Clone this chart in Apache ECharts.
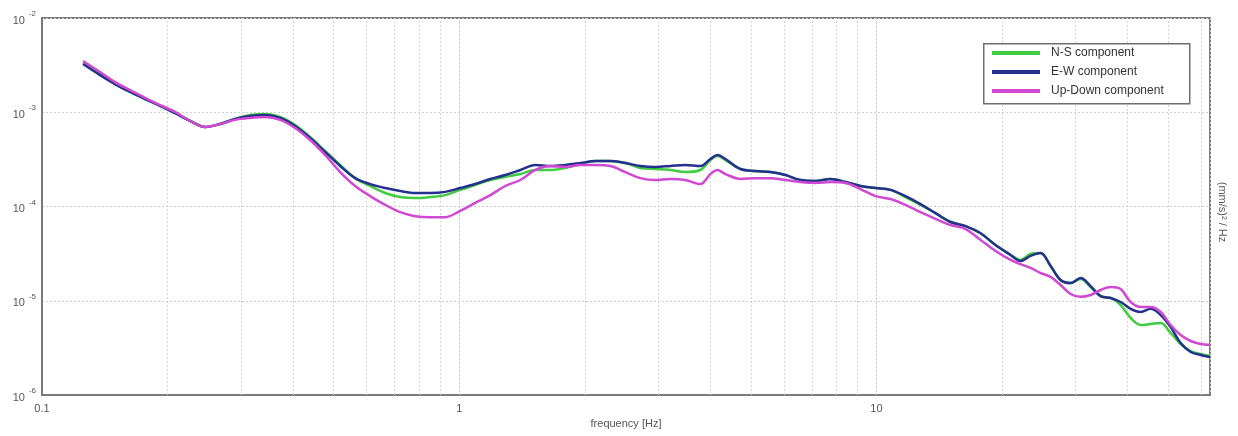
<!DOCTYPE html>
<html>
<head>
<meta charset="utf-8">
<script src="https://cdn.jsdelivr.net/npm/echarts@6/dist/echarts.min.js"></script>
<style>
html,body{margin:0;padding:0;background:#fff;}
#chart{width:1238px;height:436px;}
</style>
</head>
<body>
<div id="chart"></div>
<script>
// frequency [Hz]
const freq = [0.1254,0.1378,0.1497,0.1626,0.1766,0.1919,0.2084,0.2265,0.2460,0.2672,
0.2903,0.3154,0.3426,0.3722,0.4043,0.4392,0.4771,0.5183,0.5631,0.6117,
0.6645,0.7220,0.7843,0.8520,0.9256,1.0055,1.092,1.187,1.289,1.401,
1.522,1.653,1.796,1.951,2.119,2.302,2.501,2.717,2.951,3.206,
3.483,3.784,3.999,4.157,4.345,4.720,5.127,5.569,6.050,6.572,
7.140,7.756,8.426,9.154,9.945,10.80,11.73,12.75,13.85,15.05,
16.35,17.76,19.29,20.96,22.14,23.40,24.73,26.14,27.62,29.19,
30.85,32.60,34.45,36.41,38.47,40.66,42.97,45.41,47.99,50.70,
53.58,56.62,59.84,63.0];

const nsComponent = [3.33e-3,2.55e-3,1.99e-3,1.64e-3,1.38e-3,1.17e-3,9.8e-4,8.1e-4,6.98e-4,7.5e-4,
8.5e-4,9.35e-4,9.6e-4,8.9e-4,7.3e-4,5.46e-4,3.88e-4,2.76e-4,2.0e-4,1.65e-4,
1.39e-4,1.26e-4,1.23e-4,1.26e-4,1.32e-4,1.50e-4,1.69e-4,1.91e-4,2.06e-4,2.21e-4,
2.44e-4,2.44e-4,2.56e-4,2.82e-4,3.04e-4,3.04e-4,2.89e-4,2.56e-4,2.5e-4,2.44e-4,
2.32e-4,2.44e-4,3.11e-4,3.43e-4,3.11e-4,2.5e-4,2.38e-4,2.32e-4,2.16e-4,1.91e-4,
1.87e-4,1.96e-4,1.82e-4,1.65e-4,1.57e-4,1.50e-4,1.26e-4,1.04e-4,8.5e-5,6.85e-5,
6.2e-5,5.2e-5,3.9e-5,3.06e-5,2.71e-5,3.13e-5,3.21e-5,2.34e-5,1.66e-5,1.54e-5,
1.70e-5,1.40e-5,1.12e-5,1.07e-5,9.0e-6,6.56e-6,5.53e-6,5.67e-6,5.81e-6,4.55e-6,
3.48e-6,2.93e-6,2.72e-6,2.59e-6];

const ewComponent = [3.25e-3,2.48e-3,1.99e-3,1.64e-3,1.38e-3,1.17e-3,9.8e-4,8.1e-4,6.98e-4,7.5e-4,
8.5e-4,9.1e-4,9.35e-4,8.7e-4,7.15e-4,5.33e-4,3.79e-4,2.69e-4,2.0e-4,1.73e-4,
1.57e-4,1.46e-4,1.39e-4,1.39e-4,1.43e-4,1.57e-4,1.73e-4,1.96e-4,2.16e-4,2.44e-4,
2.76e-4,2.69e-4,2.76e-4,2.89e-4,3.04e-4,3.04e-4,2.89e-4,2.69e-4,2.63e-4,2.69e-4,
2.76e-4,2.69e-4,3.19e-4,3.52e-4,3.19e-4,2.5e-4,2.38e-4,2.32e-4,2.16e-4,1.91e-4,
1.87e-4,1.96e-4,1.82e-4,1.65e-4,1.57e-4,1.50e-4,1.29e-4,1.06e-4,8.5e-5,6.85e-5,
6.2e-5,5.2e-5,3.9e-5,3.06e-5,2.64e-5,2.99e-5,3.21e-5,2.34e-5,1.66e-5,1.54e-5,
1.74e-5,1.43e-5,1.12e-5,1.07e-5,9.7e-6,8.2e-6,7.6e-6,8.2e-6,7.06e-6,5.27e-6,
3.56e-6,2.86e-6,2.66e-6,2.53e-6];

const udComponent = [3.5e-3,2.67e-3,2.09e-3,1.72e-3,1.42e-3,1.19e-3,1.01e-3,8.1e-4,6.98e-4,7.5e-4,
8.3e-4,8.7e-4,8.9e-4,8.3e-4,6.8e-4,5.08e-4,3.52e-4,2.32e-4,1.65e-4,1.29e-4,
1.04e-4,8.7e-5,7.9e-5,7.7e-5,7.7e-5,9.0e-5,1.09e-4,1.32e-4,1.65e-4,1.91e-4,
2.44e-4,2.69e-4,2.63e-4,2.76e-4,2.76e-4,2.69e-4,2.32e-4,2.0e-4,1.91e-4,1.96e-4,
1.91e-4,1.73e-4,2.21e-4,2.44e-4,2.21e-4,1.96e-4,2.0e-4,2.0e-4,1.91e-4,1.82e-4,
1.78e-4,1.82e-4,1.78e-4,1.53e-4,1.29e-4,1.2e-4,1.04e-4,8.7e-5,7.4e-5,6.36e-5,
5.77e-5,4.41e-5,3.37e-5,2.71e-5,2.45e-5,2.23e-5,1.97e-5,1.79e-5,1.47e-5,1.18e-5,
1.10e-5,1.15e-5,1.30e-5,1.40e-5,1.33e-5,9.7e-6,8.6e-6,8.6e-6,7.6e-6,5.53e-6,
4.33e-6,3.74e-6,3.48e-6,3.39e-6];

const seriesNames = ['N-S component', 'E-W component', 'Up-Down component'];
const xGridValues = [0.2,0.3,0.4,0.5,0.6,0.7,0.8,0.9,1,2,3,4,5,6,7,8,9,10,20,30,40,50,60];
const xAxisName = 'frequency [Hz]';
const yAxisName = '(mm/s)\u00B2 / Hz';

const FONT = 'Liberation Sans, Arial, sans-serif';
const chart = echarts.init(document.getElementById('chart'), null, {renderer: 'canvas'});

function pairs(vals) { return freq.map((f, i) => [f, vals[i]]); }

const lineBase = {type: 'line', showSymbol: false, smooth: 0.35, z: 3};

chart.setOption({
  animation: false,
  backgroundColor: '#ffffff',
  grid: {left: 42, right: 28, top: 18, bottom: 41, show: true, borderColor: '#7a7a7a', borderWidth: 2, backgroundColor: 'transparent'},
  legend: {
    orient: 'vertical', left: 992, top: 46, z: 20,
    itemWidth: 48, itemHeight: 4, itemGap: 5, icon: 'rect',
    padding: 0,
    textStyle: {fontFamily: FONT, fontSize: 12, color: '#333', padding: [0, 0, 0, 6], lineHeight: 14},
    data: seriesNames
  },
  xAxis: {
    type: 'log', logBase: 10, min: 0.1, max: 63, interval: 1,
    name: xAxisName, nameLocation: 'middle', nameGap: 23,
    nameTextStyle: {fontFamily: FONT, fontSize: 11, color: '#555'},
    axisLine: {show: true, lineStyle: {color: '#7a7a7a', width: 2}},
    axisTick: {show: false},
    axisLabel: {
      fontFamily: FONT, fontSize: 11, color: '#555', margin: 8,
      formatter: function (v) {
        const e = Math.log10(v);
        if (Math.abs(e - Math.round(e)) > 1e-6) return '';
        return String(Number(v.toPrecision(3)));
      }
    },
    splitLine: {show: true, lineStyle: {color: '#cfcfcf', type: [2, 2], width: 1}}
  },
  yAxis: {
    type: 'log', logBase: 10, min: 1e-6, max: 1e-2, interval: 1,
    axisLine: {show: true, lineStyle: {color: '#7a7a7a', width: 2}},
    axisTick: {show: false},
    axisLabel: {
      margin: 6,
      formatter: function (v) {
        const e = Math.round(Math.log10(v));
        return '{b|10}{s|' + e + '}';
      },
      rich: {
        b: {fontFamily: FONT, fontSize: 11, color: '#555', lineHeight: 16, verticalAlign: 'bottom'},
        s: {fontFamily: FONT, fontSize: 8, color: '#555', lineHeight: 16, verticalAlign: 'top', padding: [0, 0, 0, 4]}
      }
    },
    splitLine: {show: true, lineStyle: {color: '#cfcfcf', type: [2, 2], width: 1}}
  },
  graphic: [
    {type: 'rect', left: 983, top: 43, z: 10, shape: {width: 206, height: 60},
     style: {fill: '#ffffff', stroke: '#6e6e6e', lineWidth: 1.5}},
    {type: 'text', x: 1222, y: 212, rotation: -Math.PI / 2, z: 10,
     style: {text: yAxisName, fill: '#555', font: '11px ' + FONT, align: 'center', verticalAlign: 'middle'}}
  ],
  series: [
    Object.assign({}, lineBase, {
      name: seriesNames[0], data: pairs(nsComponent),
      color: '#3fcc3f', lineStyle: {width: 2.5, color: '#3fcc3f'},
      markLine: {
        silent: true, symbol: ['none', 'none'], label: {show: false}, z: 1,
        lineStyle: {color: '#d6d6d6', type: [2, 2], width: 1},
        data: xGridValues.map(v => ({xAxis: v}))
      }
    }),
    Object.assign({}, lineBase, {
      name: seriesNames[1], data: pairs(ewComponent),
      color: '#24308e', lineStyle: {width: 2.5, color: '#24308e'}
    }),
    Object.assign({}, lineBase, {
      name: seriesNames[2], data: pairs(udComponent),
      color: '#d048d4', lineStyle: {width: 2.5, color: '#d048d4'}
    })
  ]
});
</script>
</body>
</html>
